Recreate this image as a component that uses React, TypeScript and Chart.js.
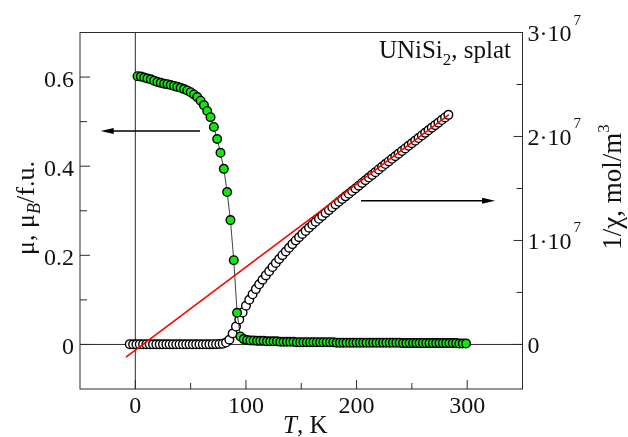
import React, { useEffect, useRef } from 'react';
import { Chart, registerables } from 'chart.js';
Chart.register(...registerables);

// ---------- data ----------
const muT = [
  2, 5, 8, 11, 14, 17, 20, 23, 26, 29,
  32, 35, 38, 41, 44, 47, 50, 53, 56, 59,
  62, 65, 68, 71, 74, 77, 80, 83, 86, 89,
  92, 95, 98, 101, 104, 107, 110, 113, 116, 119,
  122, 125, 128, 131, 134, 137, 140, 143, 146, 149,
  152, 155, 158, 161, 164, 167, 170, 173, 176, 179,
  182, 185, 188, 191, 194, 197, 200, 203, 206, 209,
  212, 215, 218, 221, 224, 227, 230, 233, 236, 239,
  242, 245, 248, 251, 254, 257, 260, 263, 266, 269,
  272, 275, 278, 281, 284, 287, 290, 293, 296, 299,
];
const muVal = [
  0.602, 0.601, 0.599, 0.597, 0.595, 0.592, 0.589, 0.587, 0.585, 0.584,
  0.582, 0.580, 0.578, 0.576, 0.573, 0.570, 0.566, 0.561, 0.555, 0.547,
  0.537, 0.524, 0.510, 0.488, 0.461, 0.430, 0.394, 0.342, 0.279, 0.189,
  0.071, 0.018, 0.012, 0.010, 0.009, 0.009, 0.008, 0.008, 0.008, 0.007,
  0.007, 0.007, 0.007, 0.006, 0.006, 0.006, 0.006, 0.006, 0.005, 0.005,
  0.005, 0.005, 0.005, 0.005, 0.005, 0.005, 0.005, 0.005, 0.005, 0.005,
  0.004, 0.004, 0.004, 0.004, 0.004, 0.004, 0.004, 0.004, 0.004, 0.004,
  0.004, 0.004, 0.004, 0.004, 0.004, 0.004, 0.004, 0.004, 0.004, 0.004,
  0.003, 0.003, 0.003, 0.003, 0.003, 0.003, 0.003, 0.003, 0.003, 0.003,
  0.003, 0.003, 0.003, 0.003, 0.003, 0.003, 0.003, 0.002, 0.002, 0.002,
];

// 1/chi in units of 10^7 mol/m^3
const invChiT = [
  -5, -2, 1, 4, 7, 10, 13, 16, 19, 22,
  25, 28, 31, 34, 37, 40, 43, 46, 49, 52,
  55, 58, 61, 64, 67, 70, 73, 76, 79, 82,
  85, 88, 91, 94, 97, 100, 103, 106, 109, 112,
  115, 118, 121, 124, 127, 130, 133, 136, 139, 142,
  145, 148, 151, 154, 157, 160, 163, 166, 169, 172,
  175, 178, 181, 184, 187, 190, 193, 196, 199, 202,
  205, 208, 211, 214, 217, 220, 223, 226, 229, 232,
  235, 238, 241, 244, 247, 250, 253, 256, 259, 262,
  265, 268, 271, 274, 277, 280, 283,
];
const invChiVal = [
  0.003, 0.002, 0.002, 0.002, 0.002, 0.002, 0.002, 0.002, 0.002, 0.002,
  0.002, 0.002, 0.002, 0.002, 0.002, 0.002, 0.002, 0.002, 0.002, 0.002,
  0.002, 0.002, 0.002, 0.002, 0.002, 0.003, 0.003, 0.004, 0.007, 0.018,
  0.045, 0.105, 0.172, 0.240, 0.308, 0.372, 0.430, 0.482, 0.532, 0.578,
  0.622, 0.664, 0.704, 0.744, 0.783, 0.821, 0.858, 0.894, 0.930, 0.965,
  1.000, 1.031, 1.062, 1.092, 1.122, 1.151, 1.180, 1.208, 1.236, 1.264,
  1.292, 1.319, 1.346, 1.372, 1.398, 1.424, 1.449, 1.475, 1.500, 1.527,
  1.553, 1.579, 1.605, 1.631, 1.657, 1.683, 1.709, 1.735, 1.760, 1.785,
  1.810, 1.835, 1.860, 1.885, 1.910, 1.935, 1.960, 1.985, 2.010, 2.035,
  2.060, 2.085, 2.109, 2.133, 2.158, 2.183, 2.208,
];

// Curie-Weiss fit line (units 10^7)
const fitT = [-8.4, 283.5];
const fitVal = [-0.121, 2.21];

// axis ticks
const xMajorTicks = [0, 100, 200, 300];
const xTickLabels = ['0', '100', '200', '300'];
const xMinorTicks = [50, 150, 250];
const leftMajorTicks = [0, 0.2, 0.4, 0.6];
const leftTickLabels = ['0', '0.2', '0.4', '0.6'];
const leftMinorTicks = [0.1, 0.3, 0.5];
const rightMajorTicks = [0, 1, 2, 3];
const rightTickMantissa = ['0', '1·10', '2·10', '3·10'];
const rightTickExponent = ['', '7', '7', '7'];
const rightMinorTicks = [0.5, 1.5, 2.5];

// arrows
const arrowMuT = [58.5, -31.3];
const arrowMuY = 0.479;
const arrowChiT = [204, 325.2];
const arrowChiY = 1.382;

const SERIF = "'Liberation Serif', 'Times New Roman', serif";
const INK = '#2b2b2b';

type Part = { t: string; size: number; italic?: boolean; dy?: number };

function partsWidth(ctx: CanvasRenderingContext2D, parts: Part[]) {
  let w = 0;
  for (const p of parts) {
    ctx.font = `${p.italic ? 'italic ' : ''}${p.size}px ${SERIF}`;
    w += ctx.measureText(p.t).width;
  }
  return w;
}
function drawParts(ctx: CanvasRenderingContext2D, parts: Part[], x: number, y: number) {
  let cx = x;
  for (const p of parts) {
    ctx.font = `${p.italic ? 'italic ' : ''}${p.size}px ${SERIF}`;
    ctx.fillText(p.t, cx, y + (p.dy || 0));
    cx += ctx.measureText(p.t).width;
  }
}

const decoPlugin = {
  id: 'deco',
  beforeDatasetsDraw(chart: any) {
    const { ctx, chartArea: a, scales } = chart;
    const y0 = scales.yL.getPixelForValue(0);
    const x0 = scales.x.getPixelForValue(0);
    ctx.save();
    ctx.strokeStyle = INK;
    ctx.lineWidth = 1;
    ctx.beginPath();
    ctx.moveTo(a.left, y0);
    ctx.lineTo(a.right, y0);
    ctx.moveTo(x0, a.top);
    ctx.lineTo(x0, a.bottom);
    ctx.stroke();

    // arrows
    const arrow = (xa: number, xb: number, y: number) => {
      ctx.strokeStyle = '#000';
      ctx.fillStyle = '#000';
      ctx.lineWidth = 1.3;
      const dir = Math.sign(xb - xa);
      ctx.beginPath();
      ctx.moveTo(xa, y);
      ctx.lineTo(xb - dir * 10, y);
      ctx.stroke();
      ctx.beginPath();
      ctx.moveTo(xb, y);
      ctx.lineTo(xb - dir * 13, y - 3);
      ctx.lineTo(xb - dir * 13, y + 3);
      ctx.closePath();
      ctx.fill();
    };
    arrow(scales.x.getPixelForValue(arrowMuT[0]), scales.x.getPixelForValue(arrowMuT[1]), scales.yL.getPixelForValue(arrowMuY));
    arrow(scales.x.getPixelForValue(arrowChiT[0]), scales.x.getPixelForValue(arrowChiT[1]), scales.yR.getPixelForValue(arrowChiY));
    ctx.restore();
  },
  afterDraw(chart: any) {
    const { ctx, chartArea: a, scales } = chart;
    const sx = scales.x, yl = scales.yL, yr = scales.yR;
    ctx.save();
    ctx.strokeStyle = INK;
    ctx.lineWidth = 1;
    ctx.strokeRect(a.left, a.top, a.right - a.left, a.bottom - a.top);

    ctx.beginPath();
    for (const v of xMajorTicks) {
      const p = sx.getPixelForValue(v);
      ctx.moveTo(p, a.bottom); ctx.lineTo(p, a.bottom - 9);
    }
    for (const v of xMinorTicks) {
      const p = sx.getPixelForValue(v);
      ctx.moveTo(p, a.bottom); ctx.lineTo(p, a.bottom - 6);
    }
    for (const v of leftMajorTicks) {
      const p = yl.getPixelForValue(v);
      ctx.moveTo(a.left, p); ctx.lineTo(a.left + 10, p);
    }
    for (const v of leftMinorTicks) {
      const p = yl.getPixelForValue(v);
      ctx.moveTo(a.left, p); ctx.lineTo(a.left + 7, p);
    }
    for (const v of rightMajorTicks) {
      const p = yr.getPixelForValue(v);
      ctx.moveTo(a.right, p); ctx.lineTo(a.right - 9, p);
    }
    for (const v of rightMinorTicks) {
      const p = yr.getPixelForValue(v);
      ctx.moveTo(a.right, p); ctx.lineTo(a.right - 6, p);
    }
    ctx.stroke();

    ctx.fillStyle = '#111';
    ctx.textBaseline = 'alphabetic';
    // left tick labels
    ctx.font = `24px ${SERIF}`;
    ctx.textAlign = 'right';
    leftMajorTicks.forEach((v, i) => {
      ctx.fillText(leftTickLabels[i], a.left - 6, yl.getPixelForValue(v) + 10);
    });
    // bottom tick labels
    ctx.textAlign = 'center';
    xMajorTicks.forEach((v, i) => {
      ctx.fillText(xTickLabels[i], sx.getPixelForValue(v), a.bottom + 24);
    });
    // right tick labels
    ctx.textAlign = 'left';
    rightMajorTicks.forEach((v, i) => {
      const p = yr.getPixelForValue(v);
      ctx.font = `24px ${SERIF}`;
      ctx.fillText(rightTickMantissa[i], a.right + 5, p + 8.5);
      const w = ctx.measureText(rightTickMantissa[i]).width;
      if (rightTickExponent[i]) {
        ctx.font = `15px ${SERIF}`;
        ctx.fillText(rightTickExponent[i], a.right + 5 + w + 2, p - 8);
      }
    });

    // x title
    const xt: Part[] = [{ t: 'T', size: 25, italic: true }, { t: ', K', size: 25 }];
    const xw = partsWidth(ctx, xt);
    drawParts(ctx, xt, (a.left + a.right) / 2 + 4 - xw / 2, 433);

    // left title (rotated)
    const lt: Part[] = [
      { t: 'μ, μ', size: 26 },
      { t: 'B', size: 18, italic: true, dy: 6 },
      { t: '/f.u.', size: 26 },
    ];
    const lw = partsWidth(ctx, lt);
    ctx.save();
    ctx.translate(34, 208);
    ctx.rotate(-Math.PI / 2);
    drawParts(ctx, lt, -lw / 2, 0);
    ctx.restore();

    // right title (rotated)
    const rt: Part[] = [
      { t: '1/χ, mol/m', size: 27 },
      { t: '3', size: 17, dy: -12 },
    ];
    const rw = partsWidth(ctx, rt);
    ctx.save();
    ctx.translate(621, 187);
    ctx.rotate(-Math.PI / 2);
    drawParts(ctx, rt, -rw / 2, 0);
    ctx.restore();

    // annotation
    const an: Part[] = [
      { t: 'UNiSi', size: 25 },
      { t: '2', size: 17, dy: 7 },
      { t: ', splat', size: 25 },
    ];
    const aw = partsWidth(ctx, an);
    drawParts(ctx, an, 511 - aw, 58);
    ctx.restore();
  },
};

export default function App() {
  const ref = useRef<HTMLCanvasElement | null>(null);
  useEffect(() => {
    if (!ref.current) return;
    const muData = muT.map((t, i) => ({ x: t, y: muVal[i] }));
    const chiData = invChiT.map((t, i) => ({ x: t, y: invChiVal[i] }));
    const fitData = fitT.map((t, i) => ({ x: t, y: fitVal[i] }));
    const chart = new Chart(ref.current, {
      type: 'scatter',
      data: {
        datasets: [
          {
            label: 'fit',
            data: fitData,
            yAxisID: 'yR',
            showLine: true,
            borderColor: '#ff0000',
            borderWidth: 1.6,
            pointRadius: 0,
            order: 0,
          },
          {
            label: 'mu',
            data: muData,
            yAxisID: 'yL',
            showLine: true,
            borderColor: '#111',
            borderWidth: 0.8,
            pointRadius: 4.3,
            pointBorderWidth: 1.4,
            pointBackgroundColor: '#14e614',
            pointBorderColor: '#000',
            order: 1,
          },
          {
            label: 'invchi',
            data: chiData,
            yAxisID: 'yR',
            showLine: false,
            pointRadius: 4.3,
            pointBorderWidth: 1.4,
            pointBackgroundColor: '#ffffff',
            pointBorderColor: '#000',
            order: 2,
          },
        ],
      },
      options: {
        animation: false,
        responsive: false,
        devicePixelRatio: 1,
        layout: { padding: { left: 80, right: 105.5, top: 32.5, bottom: 48 } },
        plugins: { legend: { display: false }, tooltip: { enabled: false } },
        scales: {
          x: { type: 'linear', min: -50, max: 350, display: false },
          yL: { type: 'linear', position: 'left', min: -0.1, max: 0.7, display: false },
          yR: { type: 'linear', position: 'right', min: -3 / 7, max: 3, display: false },
        },
      },
      plugins: [decoPlugin],
    });
    return () => chart.destroy();
  }, []);
  return (
    <div style={{ position: 'fixed', left: 0, top: 0, width: 628, height: 437, background: '#fff' }}>
      <canvas ref={ref} width={628} height={437} style={{ width: 628, height: 437 }} />
    </div>
  );
}
